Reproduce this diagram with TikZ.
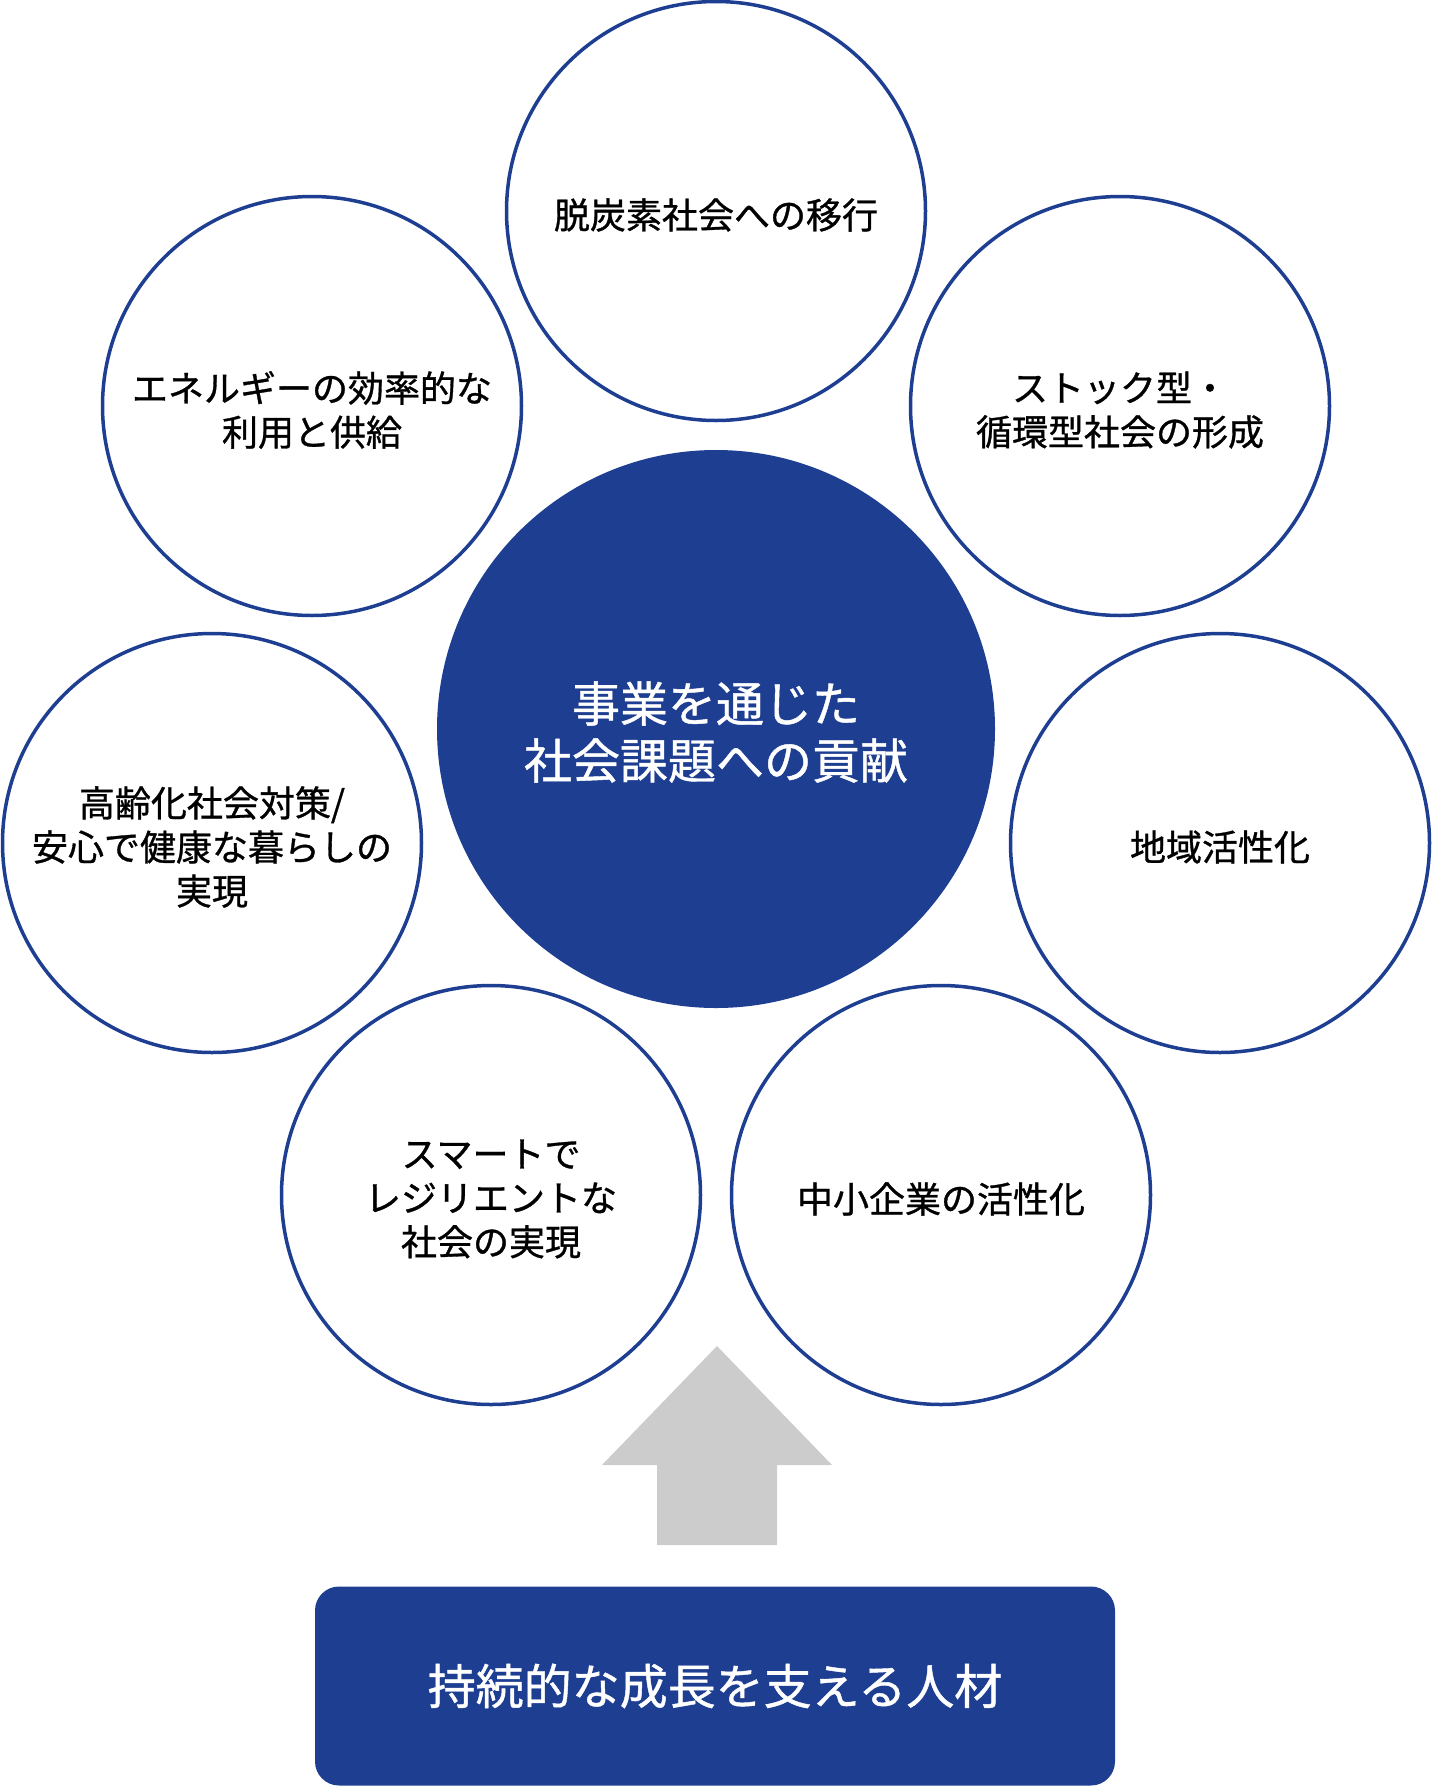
\documentclass[tikz,border=0pt]{standalone}
\usepackage{fontspec}
\setmainfont{Noto Sans CJK JP}
\newfontfamily\jp[FakeBold=0.9]{Noto Sans CJK JP}
\definecolor{navy}{RGB}{29,62,145}
\definecolor{arrowgray}{RGB}{204,204,204}
\begin{document}
\begin{tikzpicture}[x=1pt,y=-1pt,
  topic/.style={circle,draw=navy,line width=3.5pt,minimum size=419pt,inner sep=0pt},
  topictext/.style={align=center,inner sep=0pt,font=\jp\fontsize{36}{44}\selectfont,text=black},
  core/.style={circle,fill=navy,minimum size=558pt,inner sep=0pt},
  coretext/.style={align=center,inner sep=0pt,font=\jp\fontsize{48}{57}\selectfont,text=white},
  basebox/.style={rectangle,fill=navy,rounded corners=24pt,minimum width=800pt,minimum height=199pt,
    inner sep=0pt,align=center,font=\jp\fontsize{48}{57}\selectfont,text=white}]
\useasboundingbox (0,0) rectangle (1434,1786);
\node[core] (center) at (716,729) {};
\node[coretext] (centerlabel) at ([yshift=-3pt]center.center) {事業を通じた\\社会課題への貢献};
\node[topic] (t1) at (716,211) {};
\node[topic] (t2) at (312,406) {};
\node[topic] (t3) at (1120,406) {};
\node[topic] (t4) at (212,843) {};
\node[topic] (t5) at (1220,843) {};
\node[topic] (t6) at (491,1195) {};
\node[topic] (t7) at (941,1195) {};
\node[topictext] (l1) at ([yshift=-4pt]t1.center) {脱炭素社会への移行};
\node[topictext] (l2) at ([yshift=-4pt]t2.center) {エネルギーの効率的な\\利用と供給};
\node[topictext] (l3) at ([yshift=-4pt]t3.center) {ストック型・\\循環型社会の形成};
\node[topictext] (l4) at ([yshift=-4pt]t4.center) {高齢化社会対策/\\安心で健康な暮らしの\\実現};
\node[topictext] (l5) at ([yshift=-4pt]t5.center) {地域活性化};
\node[topictext] (l6) at ([yshift=-4pt]t6.center) {スマートで\\レジリエントな\\社会の実現};
\node[topictext] (l7) at ([yshift=-4pt]t7.center) {中小企業の活性化};
\node[basebox] (base) at (715,1686) {持続的な成長を支える人材};
\fill[arrowgray] (717,1346) -- (832,1465) -- (777,1465) -- (777,1545) -- (657,1545) -- (657,1465) -- (602,1465) -- cycle;
\end{tikzpicture}
\end{document}
